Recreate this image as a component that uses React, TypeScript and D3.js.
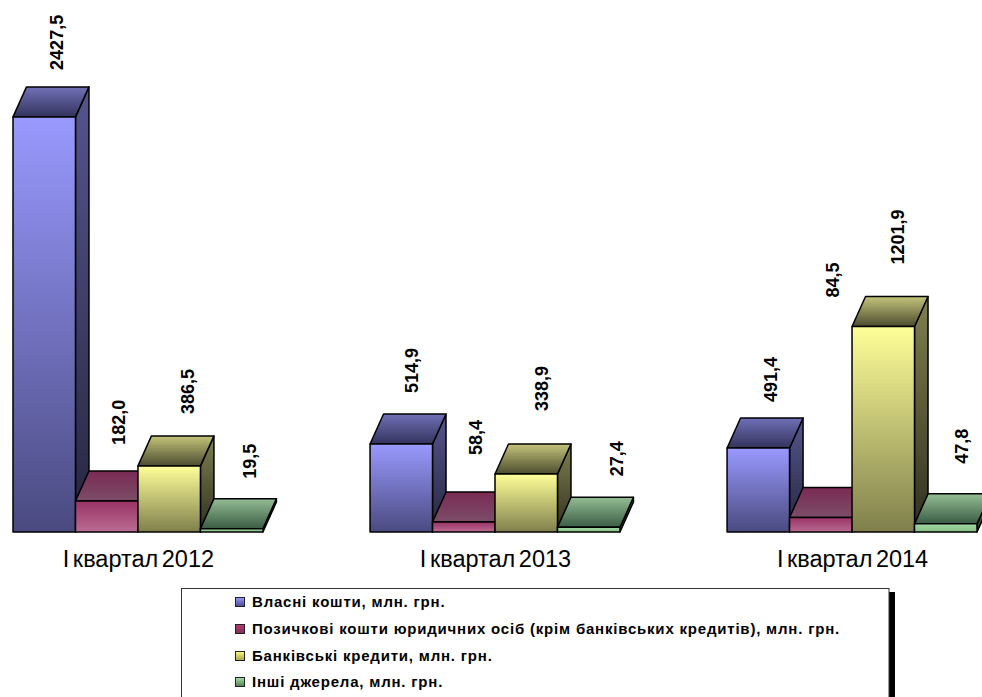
import React from "react";
import * as d3 from "d3";

const categories = ["І квартал 2012", "І квартал 2013", "І квартал 2014"];
const seriesNames = [
  "Власні кошти, млн. грн.",
  "Позичкові кошти юридичних осіб (крім банківських кредитів), млн. грн.",
  "Банківські кредити, млн. грн.",
  "Інші джерела, млн. грн.",
];
const own = [2427.5, 514.9, 491.4];
const loans = [182.0, 58.4, 84.5];
const bank = [386.5, 338.9, 1201.9];
const other = [19.5, 27.4, 47.8];
const allSeries = [own, loans, bank, other];

// distance from the bar's back edge to the foot of the rotated label
const labelGaps = [
  [17, 26, 22, 20],
  [21, 37, 33, 21],
  [16, 190, 32, 30],
];
// sideways nudge of each rotated label, as placed by hand in the original
const labelShifts = [
  [0, 0, 6, 6],
  [-2, 0, 3, 16],
  [0, 0, 2, 4],
];

const frontColors = [
  ["#9999ff", "#4a4a80"],
  ["#993366", "#ba6c92"],
  ["#ffff99", "#7f7f4c"],
  ["#a3d8a3", "#86c086"],
];
const topColors = [
  ["#7070b8", "#33335c"],
  ["#7a2a54", "#7a4e68"],
  ["#c4c47a", "#4c4c30"],
  ["#94bd94", "#3a5c44"],
];
const sideColors = [
  ["#55558f", "#26263f"],
  ["#6a2448", "#3a1428"],
  ["#808050", "#30301e"],
  ["#50705a", "#2a4030"],
];
const swatchColors = [
  ["#9999ff", "#4a4a90"],
  ["#b03c74", "#803050"],
  ["#ffff80", "#a0a040"],
  ["#a8e0a8", "#508050"],
];

const W = 982;
const H = 697;
const depthX = 13.5;
const depthY = 30;

const x0 = d3.scaleBand<string>().domain(categories).range([13, 977]).paddingInner(0.3);
const x1 = d3.scaleBand<number>().domain([0, 1, 2, 3]).range([0, x0.bandwidth()]);
const y = d3.scaleLinear().domain([0, 2500]).range([532, 104.5]);

function Grad({ id, c }: { id: string; c: string[] }) {
  return (
    <linearGradient id={id} x1="0" y1="0" x2="0" y2="1">
      <stop offset="0" stopColor={c[0]} />
      <stop offset="1" stopColor={c[1]} />
    </linearGradient>
  );
}

export default function App() {
  const font = "'Liberation Sans', Arial, sans-serif";
  return (
    <svg
      width={W}
      height={H}
      viewBox={`0 0 ${W} ${H}`}
      style={{ position: "absolute", left: 0, top: 0, background: "#fff", display: "block" }}
      fontFamily={font}
    >
      <defs>
        {seriesNames.map((_, i) => (
          <React.Fragment key={i}>
            <Grad id={`f${i}`} c={frontColors[i]} />
            <Grad id={`t${i}`} c={topColors[i]} />
            <Grad id={`s${i}`} c={sideColors[i]} />
            <Grad id={`l${i}`} c={swatchColors[i]} />
          </React.Fragment>
        ))}
      </defs>

      {categories.map((cat, c) => {
        const gx = x0(cat)!;
        return (
          <g key={cat}>
            {allSeries.map((vals, s) => {
              const l = gx + x1(s)!;
              const r = l + x1.bandwidth();
              const t = y(vals[c]);
              const b = y(0);
              const top = d3.line()([[l, t], [l + depthX, t - depthY], [r + depthX, t - depthY], [r, t]]) + "Z";
              const side = d3.line()([[r, t], [r + depthX, t - depthY], [r + depthX, b - depthY], [r, b]]) + "Z";
              return (
                <g key={s} stroke="#000" strokeWidth={1.5} strokeLinejoin="round">
                  <path d={side} fill={`url(#s${s})`} />
                  <path d={top} fill={`url(#t${s})`} />
                  <rect x={l} y={t} width={r - l} height={b - t} fill={`url(#f${s})`} />
                </g>
              );
            })}
            <text x={gx + x0.bandwidth() / 2 + 0.5} y={566.5} textAnchor="middle" fontSize={23.5} fill="#000" wordSpacing={-3}>
              {cat}
            </text>
          </g>
        );
      })}

      {categories.map((cat, c) =>
        allSeries.map((vals, s) => {
          const cx = x0(cat)! + x1(s)! + x1.bandwidth() / 2 + 12 + labelShifts[c][s];
          const foot = y(vals[c]) - depthY - labelGaps[c][s];
          return (
            <text
              key={`${c}-${s}`}
              transform={`translate(${cx + 6.5},${foot}) rotate(-90)`}
              fontSize={18}
              fontWeight="bold"
              fill="#000"
            >
              {d3.format(".1f")(vals[c]).replace(".", ",")}
            </text>
          );
        })
      )}

      <rect x={886} y={592} width={9} height={105} fill="#000" />
      <rect x={181.5} y={588.5} width={707.5} height={120} fill="#fff" stroke="#333" strokeWidth={1} />
      {seriesNames.map((name, i) => {
        const yy = [602, 629, 656, 682][i];
        return (
          <g key={name}>
            <rect x={235.5} y={yy - 4.5} width={9} height={9} fill={`url(#l${i})`} stroke="#222" strokeWidth={1} />
            <text x={252} y={yy + 5} fontSize={15} letterSpacing={0.8} fontWeight="bold" fill="#000">
              {name}
            </text>
          </g>
        );
      })}
    </svg>
  );
}
